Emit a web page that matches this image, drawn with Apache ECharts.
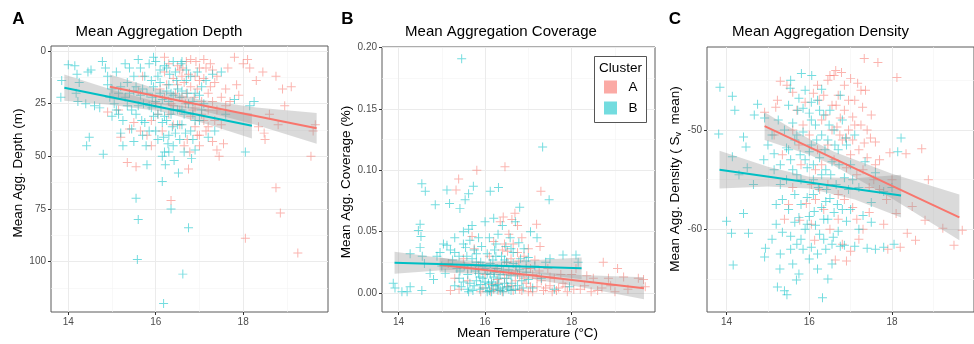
<!DOCTYPE html>
<html><head><meta charset="utf-8">
<script src="https://cdn.jsdelivr.net/npm/echarts@6/dist/echarts.min.js"></script>
<style>html,body{margin:0;padding:0;background:#fff}#c{width:974px;height:344px}</style>
</head><body><div id="c"></div>
<script>
// ---------------- DATA ----------------
const panelLetters = ['A', 'B', 'C'];
const panelTitles = ['Mean Aggregation Depth', 'Mean Aggregation Coverage', 'Mean Aggregation Density'];
const clusterNames = ['A', 'B'];
const xTickValues = [14, 16, 18];
const xMinorValues = [15, 17, 19];
const depthTicks = [0, 25, 50, 75, 100];
const depthMinor = [12.5, 37.5, 62.5, 87.5, 112.5];
const coverageTicks = [0, 0.05, 0.10, 0.15, 0.20];
const coverageMinor = [0.025, 0.075, 0.125, 0.175];
const densityTicks = [-60, -50];
const densityMinor = [-65, -55, -45];

// Panel A: temperature vs depth
const depthClusterB = [[13.85,14],[13.83,22],[14.0,6.5],[14.15,7],[14.2,11],[14.25,15],[14.18,20],[14.22,24],[14.45,10],[14.52,9],[14.4,25],[14.48,41],[14.42,45],[14.6,26],[14.72,27],[14.78,5],[14.85,8],[14.8,49],[14.9,12],[15.0,18],[15.05,25],[15.1,10],[15.15,30],[15.2,39],[15.25,45],[15.3,22],[15.35,15],[15.4,20],[15.45,28],[15.5,12],[15.5,43],[15.55,70],[15.6,80],[15.58,99],[15.55,30],[15.6,4],[15.65,8],[15.7,18],[15.72,25],[15.75,34],[15.78,45],[15.8,54],[15.85,6],[15.9,14],[15.92,22],[15.95,31],[16.0,38],[16.0,5],[16.05,12],[16.1,20],[16.12,27],[16.15,34],[16.18,41],[16.2,48],[16.22,54],[16.15,62],[16.18,120],[16.25,8],[16.3,16],[16.3,24],[16.35,30],[16.38,36],[16.4,45],[16.35,75],[16.45,10],[16.5,18],[16.5,28],[16.52,58],[16.6,35],[16.62,106],[16.65,48],[16.7,14],[16.75,25],[16.75,84],[16.8,38],[16.82,51],[16.85,30],[16.9,20],[16.95,10],[17.0,33],[17.05,17],[17.1,25],[17.2,41],[17.3,11],[17.5,10],[17.6,30],[17.8,23],[18.05,48],[18.15,26],[18.25,24],[16.6,5],[16.4,5],[16.2,7],[15.95,3],[15.3,6],[15.1,28],[15.9,27],[16.05,30],[16.3,40],[16.6,28],[16.4,21],[16.1,15],[15.45,37],[15.7,40],[15.85,26],[16.25,33],[16.45,39],[16.55,22],[16.85,42],[16.9,47],[17.35,38],[14.95,22],[15.2,17],[15.65,21],[16.7,9],[17.15,14],
  [15.4,8],[15.5,19],[15.6,26],[15.68,33],[15.75,12],[15.8,20],[15.85,38],[15.95,17],[16.0,24],[16.05,42],[16.1,9],[16.15,23],[16.2,31],[16.25,19],[16.28,44],[16.32,11],[16.35,20],[16.4,28],[16.42,52],[16.48,14],[16.5,35],[16.55,42],[16.58,6],[16.6,19],[16.65,30],[16.68,39],[16.72,20],[16.8,12],[16.85,24],[16.9,33],[17.0,21],[17.05,28],[16.3,48],[16.15,50],[15.55,17],[15.35,26],[15.25,33],[15.0,31],[15.15,20],[14.9,16]];
const depthClusterA = [[14.9,29],[15.15,28],[15.2,41],[15.35,53],[15.5,34],[15.55,55],[15.6,19],[15.65,38],[15.7,12],[15.8,40],[15.9,33],[16.0,25],[16.1,18],[16.2,10],[16.2,3],[16.3,30],[16.35,71],[16.4,13],[16.45,20],[16.5,7],[16.55,35],[16.6,22],[16.65,15],[16.7,5],[16.72,42],[16.75,56],[16.8,4],[16.85,28],[16.9,12],[16.95,18],[17.0,8],[17.05,30],[17.1,4],[17.15,38],[17.2,20],[17.25,6],[17.3,43],[17.35,15],[17.4,47],[17.45,50],[17.5,22],[17.55,44],[17.6,26],[17.65,8],[17.8,3],[17.85,16],[17.9,21],[18.0,6],[18.1,4],[18.15,8],[18.3,14],[18.35,36],[18.45,10],[18.5,42],[18.48,39],[18.6,30],[18.75,12],[18.75,65],[18.8,35],[18.85,77],[18.9,18],[18.95,26],[19.1,17],[19.25,96],[18.05,89],[19.6,38],[19.65,35],[19.55,50],[16.25,16],[16.6,12],[16.9,27],[17.0,45],[17.2,36],[16.4,35],[16.7,20],[15.9,45],[16.15,38],[17.4,28],[16.55,9],[16.35,25],[16.8,31],[15.4,37],[17.1,13],[17.3,9],[16.95,40],
  [16.3,6],[16.4,26],[16.5,16],[16.55,28],[16.62,8],[16.68,25],[16.75,11],[16.8,17],[16.88,22],[16.92,5],[17.0,14],[17.05,24],[17.1,33],[17.15,8],[17.2,28],[17.25,17],[17.3,24],[17.4,12],[17.5,35],[17.6,18],[17.7,24],[16.65,45],[16.9,36],[16.2,22],[16.05,30],[17.35,33],[17.0,40],[16.78,48]];
const depthFitA = [[14.95,17.0],[19.68,36.7]];
const depthFitB = [[13.91,17.4],[18.2,35.5]];
const depthBandA = [[14.95,11.2,22.8],[16.0,17.8,25.0],[17.0,23.0,28.0],[18.3,26.8,35.1],[19.68,29.4,44.0]];
const depthBandB = [[13.91,11.2,23.6],[15.0,18.4,25.6],[16.1,24.6,28.6],[17.2,27.8,34.9],[18.2,29.5,41.5]];

// Panel B: temperature vs coverage
const coverageClusterB = [[15.46,0.191],[17.33,0.119],[14.54,0.089],[14.62,0.083],[14.85,0.072],[15.12,0.084],[15.18,0.073],[15.42,0.069],[15.54,0.076],[15.62,0.081],[15.73,0.087],[16.12,0.083],[16.31,0.086],[17.48,0.076],[14.5,0.056],[14.46,0.051],[14.52,0.046],[14.5,0.037],[14.55,0.03],[14.27,0.032],[14.6,0.024],[13.88,0.008],[13.92,0.004],[14.08,0.001],[14.2,0.001],[14.27,0.005],[14.54,0.002],[14.73,0.016],[14.81,0.011],[14.89,0.03],[14.96,0.033],[15.04,0.04],[15.12,0.039],[15.08,0.016],[15.2,0.035],[15.25,0.027],[15.3,0.045],[15.35,0.02],[15.4,0.012],[15.4,0.03],[15.45,0.005],[15.5,0.05],[15.52,0.022],[15.55,0.037],[15.6,0.015],[15.62,0.052],[15.65,0.008],[15.7,0.055],[15.7,0.028],[15.72,0.002],[15.75,0.035],[15.78,0.018],[15.8,0.01],[15.85,0.045],[15.88,0.003],[15.9,0.025],[15.92,0.038],[15.95,0.012],[16.0,0.058],[16.0,0.02],[16.02,0.004],[16.05,0.032],[16.08,0.008],[16.1,0.045],[16.12,0.015],[16.15,0.001],[16.18,0.027],[16.2,0.061],[16.22,0.035],[16.25,0.006],[16.28,0.02],[16.3,0.048],[16.32,0.012],[16.35,0.002],[16.38,0.03],[16.4,0.055],[16.42,0.018],[16.45,0.008],[16.48,0.038],[16.5,0.025],[16.55,0.003],[16.58,0.045],[16.6,0.014],[16.65,0.033],[16.7,0.058],[16.72,0.022],[16.75,0.006],[16.78,0.041],[16.8,0.07],[16.82,0.028],[16.85,0.01],[16.9,0.036],[16.95,0.017],[17.0,0.029],[17.05,0.05],[17.1,0.004],[17.15,0.022],[17.2,0.045],[17.3,0.012],[17.4,0.025],[17.5,0.028],[17.6,0.003],[17.8,0.031],[17.95,0.005],[18.1,0.031],[18.15,0.025],[15.9,0.007],[16.15,0.009],[16.4,0.004],[16.05,0.001],[15.85,0.016],[16.28,0.003],[16.6,0.002],[15.6,0.003],[16.2,0.013],
  [15.3,0.006],[15.42,0.018],[15.5,0.009],[15.58,0.03],[15.62,0.001],[15.68,0.02],[15.75,0.006],[15.8,0.025],[15.88,0.013],[15.95,0.022],[16.0,0.009],[16.05,0.016],[16.1,0.002],[16.12,0.024],[16.18,0.006],[16.22,0.017],[16.25,0.03],[16.3,0.007],[16.35,0.015],[16.38,0.022],[16.42,0.001],[16.45,0.027],[16.5,0.012],[16.52,0.005],[16.55,0.019],[16.62,0.008],[16.65,0.024],[16.7,0.003],[16.75,0.015],[16.8,0.019],[16.88,0.004],[16.95,0.026],[17.0,0.011],[15.5,0.04],[15.65,0.043],[15.8,0.032],[16.25,0.04],[16.6,0.036],[15.3,0.033],[15.0,0.022]];
const coverageClusterA = [[16.46,0.103],[15.81,0.1],[15.39,0.093],[15.33,0.084],[17.29,0.083],[16.42,0.062],[16.69,0.065],[17.19,0.056],[17.27,0.038],[18.73,0.025],[19.06,0.02],[19.54,0.012],[19.66,0.011],[19.7,0.005],[19.3,0.003],[19.0,0.001],[18.9,0.006],[18.6,0.002],[18.5,0.012],[18.35,0.014],[18.2,0.003],[18.1,0.02],[17.9,0.001],[17.8,0.008],[17.7,0.004],[17.6,0.012],[17.5,0.006],[17.45,0.02],[17.35,0.002],[17.3,0.01],[17.2,0.005],[17.15,0.027],[17.1,0.015],[17.0,0.001],[16.95,0.008],[16.9,0.03],[16.85,0.045],[16.8,0.003],[16.75,0.055],[16.7,0.018],[16.65,0.04],[16.6,0.006],[16.55,0.048],[16.5,0.025],[16.45,0.012],[16.4,0.035],[16.35,0.058],[16.3,0.002],[16.25,0.02],[16.2,0.042],[16.15,0.007],[16.1,0.03],[16.0,0.015],[15.95,0.004],[15.85,0.022],[15.75,0.036],[15.7,0.046],[15.6,0.01],[15.5,0.028],[15.4,0.003],[15.3,0.012],[15.2,0.002],[15.15,0.024],[16.62,0.06],[16.78,0.026],[16.52,0.034],[17.05,0.02],[16.28,0.011],[16.12,0.001],[15.9,0.001],[16.9,0.012],[18.0,0.015],[17.55,0.001],
  [16.2,0.003],[16.3,0.008],[16.4,0.001],[16.5,0.005],[16.55,0.015],[16.65,0.002],[16.7,0.01],[16.8,0.014],[16.85,0.002],[16.95,0.02],[17.05,0.005],[17.1,0.001],[17.2,0.012],[17.25,0.018],[17.4,0.004],[17.5,0.013],[17.65,0.002],[17.75,0.015],[17.85,0.005],[18.05,0.003],[18.3,0.006],[18.45,0.001],[18.7,0.004],[18.85,0.012],[19.2,0.013],[16.6,0.028],[16.45,0.04],[16.75,0.033],[17.0,0.036],[15.6,0.02]];
const coverageFitA = [[14.95,0.0231],[19.67,0.0038]];
const coverageFitB = [[13.91,0.0247],[18.23,0.0201]];
const coverageBandA = [[14.95,0.0170,0.0292],[16.0,0.0153,0.0223],[16.8,0.0130,0.0180],[18.2,0.0049,0.0147],[19.67,-0.0052,0.0128]];
const coverageBandB = [[13.91,0.0157,0.0337],[15.0,0.0185,0.0285],[16.0,0.0195,0.0255],[17.1,0.0160,0.0266],[18.23,0.0113,0.0289]];

// Panel C: temperature vs density
const densityClusterB = [[13.84,-45.7],[14.14,-46.6],[14.2,-48.0],[14.75,-47.4],[14.67,-48.5],[13.81,-50.4],[14.41,-50.7],[14.47,-51.7],[14.14,-52.7],[14.0,-59.2],[14.12,-60.4],[14.41,-58.4],[14.53,-60.4],[14.16,-63.6],[15.81,-44.3],[16.06,-44.5],[15.54,-45.8],[14.92,-48.8],[18.22,-50.8],[18.14,-52.2],[16.32,-66.9],[15.46,-66.6],[15.23,-65.8],[15.69,-65.1],[15.29,-64.0],[14.92,-62.8],[14.94,-61.9],[15.4,-66.2],[15.3,-62.5],[15.6,-63.5],[15.75,-64.5],[15.1,-61.0],[15.2,-59.5],[15.35,-60.3],[15.5,-58.0],[15.55,-60.7],[15.65,-59.3],[15.7,-61.5],[15.8,-57.5],[15.85,-62.0],[15.9,-60.0],[16.0,-58.7],[16.05,-61.8],[16.1,-56.5],[16.15,-59.6],[16.2,-62.5],[16.25,-60.5],[16.3,-57.8],[16.35,-61.0],[16.4,-62.0],[16.45,-59.0],[16.5,-56.9],[16.55,-61.5],[16.6,-58.3],[16.7,-60.2],[16.75,-61.7],[16.85,-61.6],[16.9,-59.2],[17.0,-58.0],[17.1,-61.7],[17.2,-60.0],[17.3,-58.6],[17.5,-59.3],[17.6,-62.0],[17.8,-61.8],[18.05,-61.5],[17.4,-61.9],[14.65,-55.5],[14.5,-53.8],[14.3,-54.5],[14.9,-53.0],[15.0,-51.5],[15.1,-50.5],[15.15,-52.4],[15.25,-49.0],[15.3,-53.5],[15.4,-50.0],[15.45,-51.8],[15.5,-47.5],[15.55,-53.0],[15.6,-49.3],[15.65,-51.0],[15.7,-54.5],[15.72,-48.0],[15.78,-52.5],[15.85,-50.2],[15.9,-46.0],[15.95,-53.8],[16.0,-48.3],[16.05,-51.5],[16.1,-55.0],[16.15,-49.5],[16.2,-47.0],[16.25,-52.8],[16.3,-50.5],[16.35,-48.5],[16.4,-54.0],[16.45,-51.0],[16.5,-48.0],[16.55,-53.2],[16.6,-50.0],[16.65,-55.5],[16.7,-52.0],[16.75,-46.5],[16.8,-49.0],[16.85,-54.8],[16.9,-51.5],[17.0,-53.5],[17.1,-50.5],[17.2,-55.8],[17.35,-53.2],[17.5,-57.3],[17.6,-54.3],[17.8,-56.2],[18.0,-55.8],[15.55,-45.0],[15.75,-46.8],[16.05,-47.2],[16.3,-45.9],[15.35,-57.0],[15.95,-56.8],[16.4,-57.2],
  [15.5,-52.0],[15.6,-54.0],[15.65,-56.5],[15.7,-50.5],[15.75,-58.8],[15.8,-55.0],[15.85,-47.8],[15.9,-53.0],[15.95,-59.5],[16.0,-52.2],[16.05,-49.0],[16.1,-53.5],[16.12,-58.2],[16.18,-51.0],[16.22,-55.8],[16.25,-48.0],[16.3,-54.5],[16.35,-59.0],[16.38,-52.0],[16.42,-56.0],[16.48,-49.5],[16.52,-54.5],[16.58,-60.8],[16.62,-51.5],[16.68,-57.5],[16.72,-53.5],[16.8,-58.0],[16.88,-50.8],[16.95,-56.0],[17.05,-55.0],[15.45,-55.0],[15.3,-55.5],[15.2,-57.5],[15.15,-54.0],[16.2,-64.0],[16.0,-63.0],[15.8,-61.0],[16.55,-63.5],[16.45,-65.0],[15.55,-62.0]];
const densityClusterA = [[17.33,-42.8],[17.66,-43.2],[18.12,-44.7],[16.64,-44.0],[16.78,-44.2],[16.5,-44.5],[15.3,-45.1],[15.46,-45.5],[17.17,-45.3],[17.36,-46.0],[16.24,-47.0],[17.29,-47.7],[15.23,-47.0],[15.19,-47.7],[14.92,-48.2],[17.05,-48.7],[16.4,-48.5],[16.67,-49.7],[16.74,-50.5],[17.48,-50.8],[17.33,-51.3],[17.95,-52.3],[18.34,-52.4],[18.72,-51.9],[18.88,-55.0],[17.56,-55.0],[17.87,-57.0],[18.49,-57.7],[18.1,-58.4],[18.8,-59.1],[18.37,-60.4],[18.57,-61.1],[19.23,-59.9],[19.5,-61.6],[19.7,-60.1],[16.63,-63.1],[16.13,-61.1],[15.77,-59.1],[15.93,-57.4],[16.05,-55.5],[15.6,-46.2],[15.7,-48.0],[15.85,-49.5],[16.0,-50.5],[16.1,-46.3],[16.2,-52.0],[16.3,-49.0],[16.45,-51.5],[16.55,-47.5],[16.6,-53.0],[16.7,-46.5],[16.8,-51.0],[16.85,-48.0],[16.9,-53.8],[16.95,-50.0],[17.0,-52.5],[17.1,-47.0],[17.15,-54.5],[17.25,-49.5],[17.4,-52.8],[17.5,-48.5],[17.6,-53.5],[17.7,-56.0],[17.8,-59.5],[17.45,-58.3],[17.3,-60.0],[17.2,-61.0],[17.0,-62.2],[16.8,-61.5],[16.9,-63.2],[16.5,-60.0],[16.35,-58.0],[15.5,-57.5],[15.4,-59.0],[15.6,-55.8],[15.8,-53.5],[16.15,-54.0],[16.7,-56.5],[17.05,-57.8],[17.9,-62.0],[18.2,-61.8],[18.0,-55.0],[16.6,-44.5],[15.9,-47.2],[16.25,-56.0],[15.15,-50.5],[15.35,-52.5],
  [16.2,-45.5],[16.35,-46.5],[16.45,-45.0],[16.55,-50.0],[16.65,-47.5],[16.75,-48.8],[16.85,-45.5],[16.9,-50.8],[16.95,-47.0],[17.0,-44.8],[17.05,-51.0],[17.1,-49.5],[17.2,-52.0],[17.25,-46.0],[17.3,-54.0],[17.4,-50.0],[17.45,-55.8],[17.6,-51.2],[17.7,-53.0],[16.3,-53.5],[16.15,-57.0],[16.45,-55.5],[16.7,-59.0],[16.85,-57.0],[17.15,-59.0],[15.75,-51.5],[15.6,-50.0],[16.05,-59.5]];
const densityFitA = [[14.92,-49.6],[19.63,-58.8]];
const densityFitB = [[13.83,-54.0],[18.22,-56.6]];
const densityBandA = [[14.92,-51.0,-48.2],[16.0,-52.5,-50.9],[16.6,-53.6,-52.2],[18.0,-56.9,-54.4],[19.63,-61.1,-56.5]];
const densityBandB = [[13.83,-55.9,-52.1],[15.0,-55.7,-53.7],[16.0,-55.9,-54.7],[17.1,-57.0,-54.85],[18.22,-58.8,-54.5]];

// ---------------- STYLE / LAYOUT ----------------
const RED = '#F8766D', TEAL = '#00BFC4';
const FONT = 'Liberation Sans, Arial, Helvetica, sans-serif';
const PLUS = 'path://M4.45,0H5.55V4.45H10V5.55H5.55V10H4.45V5.55H0V4.45H4.45Z';

const panels = [
  {left:51, top:46, width:277, height:266, xmin:13.605, xmax:19.94, ymin:-2.4, ymax:124, inverse:true,
   yTicks:depthTicks, yMinor:depthMinor, fmt:v=>String(v),
   ptsA:depthClusterA, ptsB:depthClusterB, fitA:depthFitA, fitB:depthFitB, bandA:depthBandA, bandB:depthBandB},
  {left:382, top:47, width:273, height:265, xmin:13.62, xmax:19.925, ymin:-0.0155, ymax:0.2006, inverse:false,
   yTicks:coverageTicks, yMinor:coverageMinor, fmt:v=>v.toFixed(2),
   ptsA:coverageClusterA, ptsB:coverageClusterB, fitA:coverageFitA, fitB:coverageFitB, bandA:coverageBandA, bandB:coverageBandB},
  {left:707, top:47, width:277, height:265, xmin:13.527, xmax:19.984, ymin:-68.33, ymax:-41.64, inverse:false,
   yTicks:densityTicks, yMinor:densityMinor, fmt:v=>String(v),
   ptsA:densityClusterA, ptsB:densityClusterB, fitA:densityFitA, fitB:densityFitB, bandA:densityBandA, bandB:densityBandB}
];

const grid = [], xAxis = [], yAxis = [], series = [];
const labelStyle = {color:'#4D4D4D', fontSize:10, fontFamily:FONT};

function bandSeries(rows, ai) {
  return {type:'custom', xAxisIndex:ai, yAxisIndex:ai, silent:true, z:3,
    data:[rows[0]], encode:{x:0, y:1},
    renderItem:function(params, api){
      const up = rows.map(r => api.coord([r[0], r[2]]));
      const lo = rows.map(r => api.coord([r[0], r[1]])).reverse();
      return {type:'polygon', shape:{points:up.concat(lo)}, style:{fill:'rgba(153,153,153,0.36)'}};
    }};
}

panels.forEach((p, i) => {
  grid.push({left:p.left, top:p.top, width:p.width, height:p.height, show:true,
    backgroundColor:'#fff', borderColor:'#5a5a5a', borderWidth:1, containLabel:false});
  const main = 2*i;
  xAxis.push({type:'value', gridIndex:i, min:p.xmin, max:p.xmax, position:'bottom',
    axisLine:{show:false, onZero:false},
    axisTick:{show:true, length:3, lineStyle:{color:'#333'}, customValues:xTickValues},
    axisLabel:Object.assign({customValues:xTickValues, margin:5, formatter:v=>String(v)}, labelStyle),
    splitLine:{show:true, lineStyle:{color:'#EBEBEB', width:1}}, z:1});
  xAxis.push({type:'value', gridIndex:i, min:p.xmin, max:p.xmax, position:'top',
    axisLine:{show:false, onZero:false},
    axisTick:{show:true, length:0, lineStyle:{opacity:0}, customValues:xMinorValues},
    axisLabel:{show:false, customValues:xMinorValues},
    splitLine:{show:true, lineStyle:{color:'#F4F4F4', width:0.6}}, z:0});
  yAxis.push({type:'value', gridIndex:i, min:p.ymin, max:p.ymax, inverse:p.inverse, position:'left',
    axisLine:{show:false, onZero:false},
    axisTick:{show:true, length:3, lineStyle:{color:'#333'}, customValues:p.yTicks},
    axisLabel:Object.assign({customValues:p.yTicks, margin:5, formatter:p.fmt}, labelStyle),
    splitLine:{show:true, lineStyle:{color:'#EBEBEB', width:1}}, z:1});
  yAxis.push({type:'value', gridIndex:i, min:p.ymin, max:p.ymax, inverse:p.inverse, position:'right',
    axisLine:{show:false, onZero:false},
    axisTick:{show:true, length:0, lineStyle:{opacity:0}, customValues:p.yMinor},
    axisLabel:{show:false, customValues:p.yMinor},
    splitLine:{show:true, lineStyle:{color:'#F4F4F4', width:0.6}}, z:0});

  series.push({type:'scatter', name:clusterNames[0], xAxisIndex:main, yAxisIndex:main, data:p.ptsA,
    symbol:PLUS, symbolSize:9, itemStyle:{color:RED, opacity:0.55}, silent:true, z:2});
  series.push({type:'scatter', name:clusterNames[1], xAxisIndex:main, yAxisIndex:main, data:p.ptsB,
    symbol:PLUS, symbolSize:9, itemStyle:{color:TEAL, opacity:0.55}, silent:true, z:2});
  series.push(bandSeries(p.bandA, main));
  series.push({type:'line', xAxisIndex:main, yAxisIndex:main, data:p.fitA, showSymbol:false, symbol:'none',
    lineStyle:{color:RED, width:2}, silent:true, z:4});
  series.push(bandSeries(p.bandB, main));
  series.push({type:'line', xAxisIndex:main, yAxisIndex:main, data:p.fitB, showSymbol:false, symbol:'none',
    lineStyle:{color:TEAL, width:2}, silent:true, z:5});
});

function txt(x, y, text, size, opts) {
  return Object.assign({type:'text', x:x, y:y, silent:true, z:100,
    style:{text:text, font:(opts && opts.bold ? 'bold ' : '') + size + 'px ' + FONT, fill:'#000',
      align:'center', verticalAlign:'middle', textAlign:'center', textVerticalAlign:'middle'}}, opts && opts.extra || {});
}

const graphic = [
  txt(18.3, 19, panelLetters[0], 17, {bold:true}),
  txt(347.5, 19, panelLetters[1], 17, {bold:true}),
  txt(675, 19, panelLetters[2], 17, {bold:true}),
  txt(159, 32, panelTitles[0], 15),
  txt(501, 32, panelTitles[1], 15),
  txt(820.5, 32, panelTitles[2], 15),
  txt(18.3, 173, 'Mean Agg. Depth (m)', 13.5, {extra:{rotation:Math.PI/2}}),
  txt(346.7, 182, 'Mean Agg. Coverage (%)', 13.5, {extra:{rotation:Math.PI/2}}),
  txt(527.5, 333, 'Mean Temperature (°C)', 13.5),
  {type:'text', x:675, y:179, rotation:Math.PI/2, silent:true, z:100,
   style:{text:'{n|Mean Agg. Density ( S}{s|v}{n|  mean)}', align:'center', verticalAlign:'middle',
     textAlign:'center', textVerticalAlign:'middle', fill:'#000',
     rich:{n:{fontSize:13.5, fontFamily:FONT, lineHeight:16, fill:'#000'},
           s:{fontSize:9, fontFamily:FONT, lineHeight:9, verticalAlign:'bottom', fill:'#000'}}}},
  // legend
  {type:'rect', shape:{x:594.5, y:56.5, width:52, height:66}, style:{fill:'#fff', stroke:'#555', lineWidth:1}, z:90, silent:true},
  txt(620.5, 68.5, 'Cluster', 13.5),
  {type:'rect', shape:{x:604, y:80.5, width:13, height:13}, style:{fill:'rgba(248,118,109,0.62)'}, z:100, silent:true},
  {type:'rect', shape:{x:604, y:101.5, width:13, height:13}, style:{fill:'rgba(0,191,196,0.55)'}, z:100, silent:true},
  txt(633, 87.5, clusterNames[0], 13.5),
  txt(633, 108.5, clusterNames[1], 13.5)
];

const chart = echarts.init(document.getElementById('c'), null, {renderer:'canvas'});
chart.setOption({animation:false, backgroundColor:'#fff', grid, xAxis, yAxis, series, graphic});
</script></body></html>
